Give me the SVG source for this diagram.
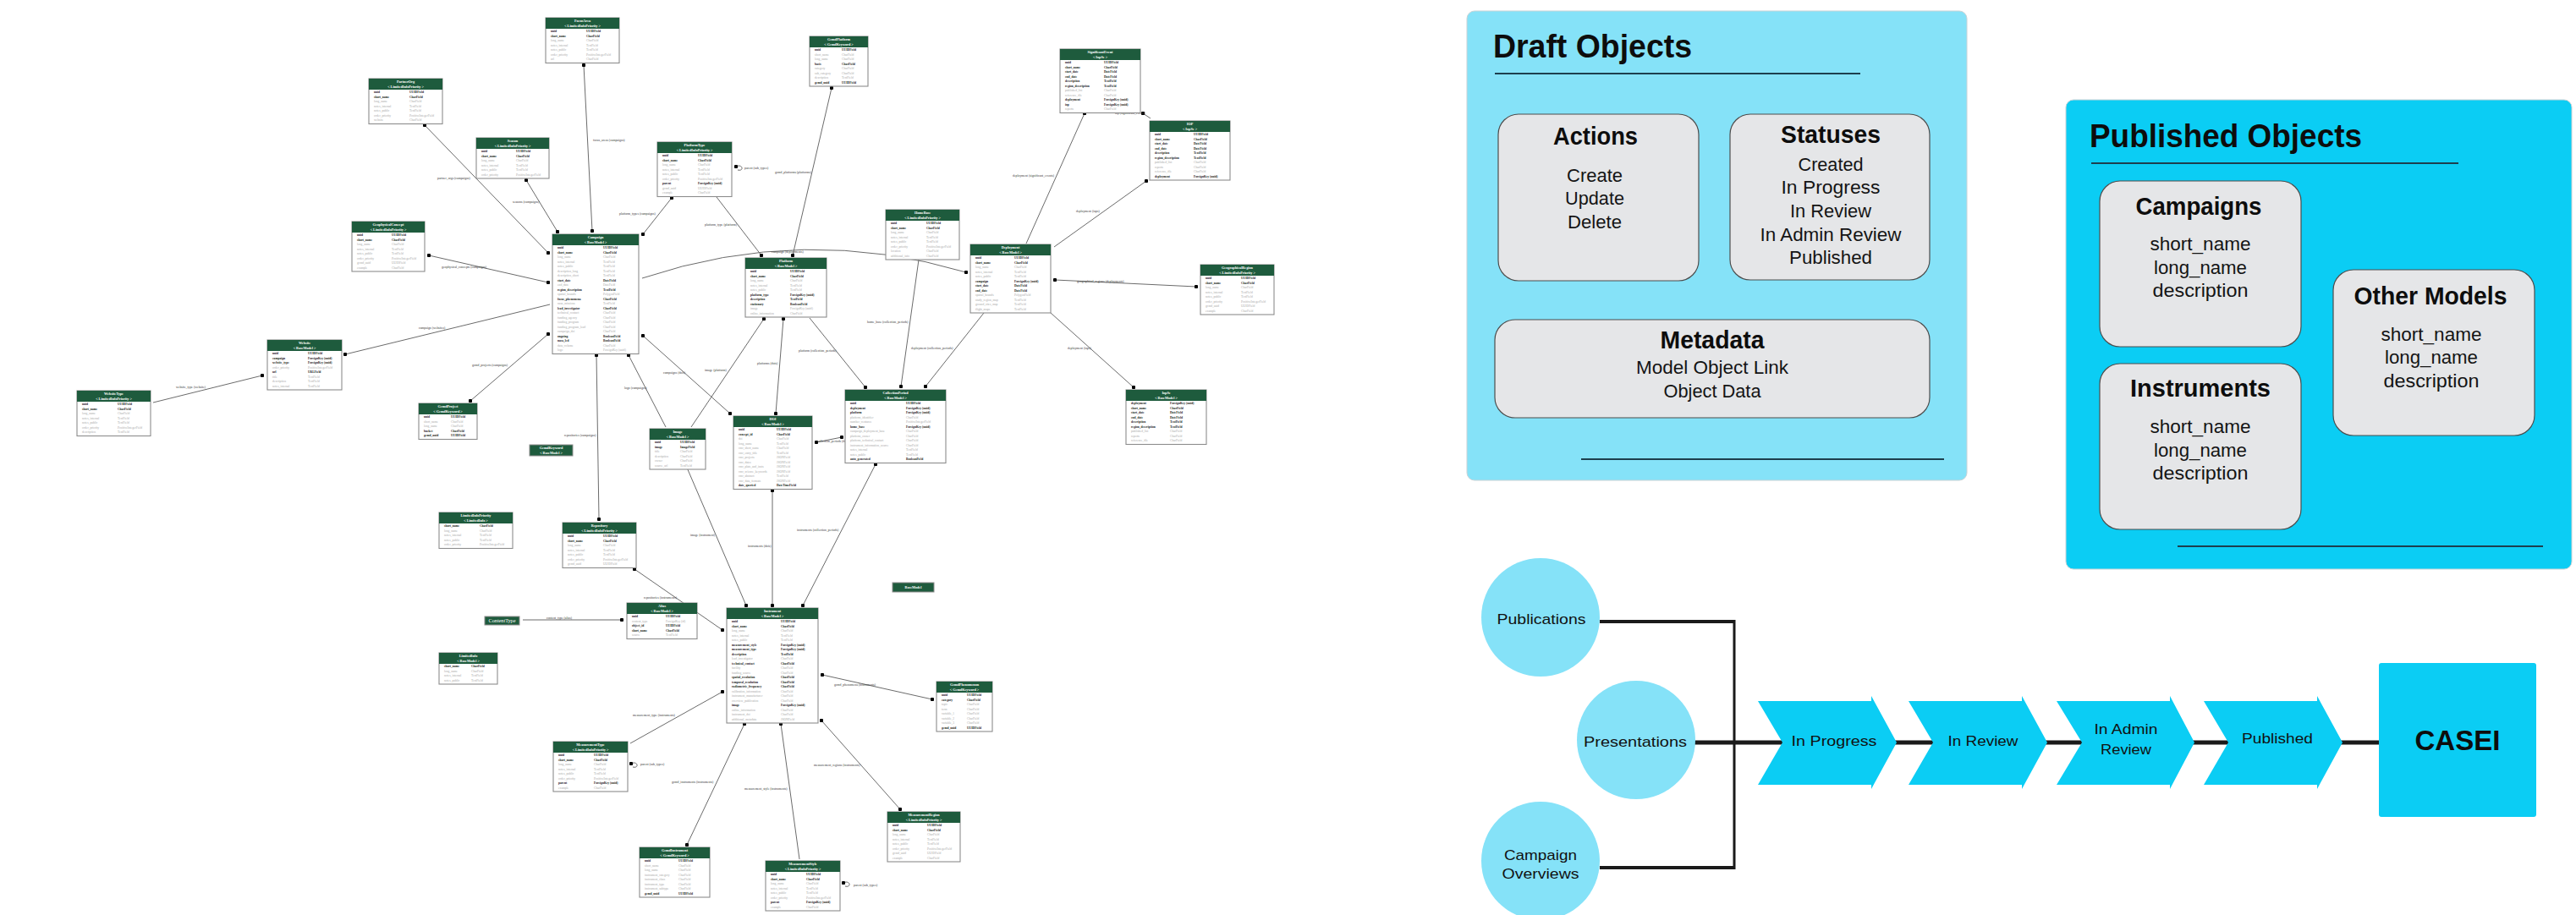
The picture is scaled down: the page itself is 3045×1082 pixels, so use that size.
<svg xmlns="http://www.w3.org/2000/svg" width="3045" height="1082" viewBox="0 0 3045 1082">
<style>
.tb{fill:#fff;stroke:#8c8c8c;stroke-width:1.1}
.th{fill:#1e5b3d}
.tt{font-family:"Liberation Serif",serif;font-weight:bold;font-size:4.2px;fill:#fff;text-anchor:middle}
.tf{font-family:"Liberation Serif",serif;font-size:3.6px}
.b{fill:#1a1a1a;font-weight:bold}
.g{fill:#a8a8a8}
.lk{fill:none;stroke:#6b6b6b;stroke-width:1}
.d2{marker-start:url(#dot);marker-end:url(#dot)}
.de{marker-end:url(#dot)}
.ds{marker-start:url(#dot)}
.el{font-family:"Liberation Serif",serif;font-size:3.8px;fill:#3a3a3a}
.pd{fill:#85e2f8;stroke:#c9d3d6;stroke-width:1}
.pp{fill:#0bcdf4;stroke:#c9d3d6;stroke-width:1}
.bx{fill:#e5e6e8;stroke:#4d4d4d;stroke-width:1.2}
.rl{stroke:#1d3f4e;stroke-width:2}
.h1{font-family:"Liberation Sans",Arial,sans-serif;font-weight:bold;font-size:39px;fill:#0d0d0d}
.h2{font-family:"Liberation Sans",Arial,sans-serif;font-weight:bold;font-size:29px;fill:#0d0d0d;text-anchor:middle}
.tx{font-family:"Liberation Sans",Arial,sans-serif;font-size:22px;fill:#141414;text-anchor:middle}
.fl{font-family:"Liberation Sans",Arial,sans-serif;font-size:17px;fill:#111;text-anchor:middle}
.cv{fill:#0bcdf4}
.cc{fill:#85e2f8}
.wl{stroke:#1a1a1a;fill:none}
</style>
<defs>
<marker id="dot" viewBox="0 0 6 6" refX="3" refY="3" markerWidth="4.5" markerHeight="4.5" markerUnits="userSpaceOnUse"><circle cx="3" cy="3" r="3" fill="#000"/></marker>
</defs>
<rect width="3045" height="1082" fill="#fff"/>

<!-- ER model: relations -->
<g id="connectors">
<line class="lk d2" x1="690" y1="77" x2="700" y2="273"/>
<line class="lk d2" x1="622" y1="213" x2="659" y2="274"/>
<line class="lk d2" x1="794" y1="234" x2="760" y2="277"/>
<line class="lk d2" x1="502" y1="148" x2="648" y2="299"/>
<line class="lk d2" x1="507" y1="302" x2="648" y2="334"/>
<line class="lk de" x1="650" y1="360" x2="408" y2="419"/>
<line class="lk d2" x1="556" y1="474" x2="648" y2="395"/>
<line class="lk de" x1="181" y1="476" x2="310" y2="444"/>
<line class="lk d2" x1="760" y1="397" x2="863" y2="489"/>
<line class="lk de" x1="787" y1="505" x2="743" y2="420"/>
<line class="lk de" x1="817" y1="505" x2="903" y2="377"/>
<line class="lk d2" x1="926" y1="377" x2="917" y2="489"/>
<line class="lk de" x1="957" y1="376" x2="1023" y2="458"/>
<line class="lk de" x1="1086" y1="307" x2="1065" y2="457"/>
<line class="lk de" x1="1163" y1="370" x2="1094" y2="457"/>
<line class="lk de" x1="1242" y1="370" x2="1340" y2="458"/>
<line class="lk de" x1="1213" y1="288" x2="1282" y2="134"/>
<line class="lk de" x1="1246" y1="292" x2="1355" y2="214"/>
<line class="lk de" x1="1360" y1="140" x2="1351" y2="134"/>
<line class="lk d2" x1="1247" y1="331" x2="1414" y2="339"/>
<path class="lk de" d="M759,329 Q950,265 1142,322"/>
<line class="lk d2" x1="983" y1="104" x2="937" y2="302"/>
<line class="lk de" x1="847" y1="233" x2="900" y2="302"/>
<path class="lk ds" d="M870,197 C878,193 880,203 872,201"/>
<line class="lk d2" x1="705" y1="420" x2="708" y2="614"/>
<line class="lk d2" x1="750" y1="673" x2="854" y2="745"/>
<line class="lk de" x1="618" y1="733" x2="735" y2="733"/>
<line class="lk de" x1="812" y1="553" x2="882" y2="716"/>
<line class="lk d2" x1="913" y1="580" x2="913" y2="716"/>
<line class="lk d2" x1="1035" y1="549" x2="949" y2="716"/>
<line class="lk d2" x1="972" y1="798" x2="1102" y2="827"/>
<line class="lk de" x1="745" y1="879" x2="854" y2="818"/>
<line class="lk d2" x1="880" y1="856" x2="812" y2="999"/>
<line class="lk de" x1="945" y1="1016" x2="923" y2="856"/>
<line class="lk d2" x1="971" y1="852" x2="1064" y2="957"/>
<path class="lk ds" d="M746,903 C754,899 756,909 748,907"/>
<path class="lk ds" d="M997,1044 C1005,1040 1007,1050 999,1048"/>
<line class="lk d2" x1="965" y1="523" x2="995" y2="517"/>
<text class="el" x="701" y="167">focus_areas (campaigns)</text>
<text class="el" x="606" y="240">seasons (campaigns)</text>
<text class="el" x="732" y="254">platform_types (campaigns)</text>
<text class="el" x="517" y="212">partner_orgs (campaigns)</text>
<text class="el" x="522" y="317">geophysical_concepts (campaigns)</text>
<text class="el" x="495" y="389">campaign (websites)</text>
<text class="el" x="558" y="433">gcmd_projects (campaigns)</text>
<text class="el" x="208" y="459">website_type (website)</text>
<text class="el" x="784" y="442">campaigns (dois)</text>
<text class="el" x="738" y="460">logo (campaigns)</text>
<text class="el" x="833" y="439">image (platform)</text>
<text class="el" x="895" y="431">platforms (dois)</text>
<text class="el" x="944" y="416">platform (collection_periods)</text>
<text class="el" x="1025" y="382">home_base (collection_periods)</text>
<text class="el" x="1077" y="413">deployment (collection_periods)</text>
<text class="el" x="1262" y="413">deployment (iops)</text>
<text class="el" x="1197" y="209">deployment (significant_events)</text>
<text class="el" x="1272" y="251">deployment (iops)</text>
<text class="el" x="1318" y="135">iop (significant_events)</text>
<text class="el" x="1273" y="334">geographical_regions (deployments)</text>
<text class="el" x="912" y="299">campaign (deployments)</text>
<text class="el" x="916" y="205">gcmd_platforms (platforms)</text>
<text class="el" x="833" y="267">platform_type (platform)</text>
<text class="el" x="880" y="200">parent (sub_types)</text>
<text class="el" x="667" y="516">repositories (campaigns)</text>
<text class="el" x="761" y="708">repositories (instruments)</text>
<text class="el" x="646" y="732">content_type (alias)</text>
<text class="el" x="816" y="634">image (instrument)</text>
<text class="el" x="884" y="647">instruments (dois)</text>
<text class="el" x="942" y="628">instruments (collection_periods)</text>
<text class="el" x="986" y="811">gcmd_phenomena (instruments)</text>
<text class="el" x="748" y="847">measurement_type (instruments)</text>
<text class="el" x="794" y="926">gcmd_instruments (instruments)</text>
<text class="el" x="880" y="934">measurement_style (instruments)</text>
<text class="el" x="962" y="906">measurement_regions (instruments)</text>
<text class="el" x="757" y="905">parent (sub_types)</text>
<text class="el" x="1009" y="1048">parent (sub_types)</text>
<text class="el" x="966" y="523">collection_periods (dois)</text>
</g>

<!-- ER model: tables -->
<g id="focus-area" transform="translate(645,21)">
<rect class="tb" width="87" height="53.5"/><rect class="th" width="87" height="13"/>
<text class="tt" x="43.5" y="5.4">FocusArea</text><text class="tt" x="43.5" y="10.6">&lt; LimitedInfoPriority &gt;</text>
<text class="tf"><tspan x="6" y="17.3" class="b">uuid</tspan><tspan x="6" dy="5.5" class="b">short_name</tspan><tspan x="6" dy="5.5" class="g">long_name</tspan><tspan x="6" dy="5.5" class="g">notes_internal</tspan><tspan x="6" dy="5.5" class="g">notes_public</tspan><tspan x="6" dy="5.5" class="g">order_priority</tspan><tspan x="6" dy="5.5" class="g">url</tspan></text>
<text class="tf"><tspan x="48" y="17.3" class="b">UUIDField</tspan><tspan x="48" dy="5.5" class="b">CharField</tspan><tspan x="48" dy="5.5" class="g">CharField</tspan><tspan x="48" dy="5.5" class="g">TextField</tspan><tspan x="48" dy="5.5" class="g">TextField</tspan><tspan x="48" dy="5.5" class="g">PositiveIntegerField</tspan><tspan x="48" dy="5.5" class="g">CharField</tspan></text>
</g>

<g id="gcmd-platform" transform="translate(957,43)">
<rect class="tb" width="69" height="59"/><rect class="th" width="69" height="13"/>
<text class="tt" x="34.5" y="5.4">GcmdPlatform</text><text class="tt" x="34.5" y="10.6">&lt; GcmdKeyword &gt;</text>
<text class="tf"><tspan x="6" y="17.3" class="b">uuid</tspan><tspan x="6" dy="5.5" class="g">short_name</tspan><tspan x="6" dy="5.5" class="g">long_name</tspan><tspan x="6" dy="5.5" class="b">basis</tspan><tspan x="6" dy="5.5" class="g">category</tspan><tspan x="6" dy="5.5" class="g">sub_category</tspan><tspan x="6" dy="5.5" class="g">description</tspan><tspan x="6" dy="5.5" class="b">gcmd_uuid</tspan></text>
<text class="tf"><tspan x="38" y="17.3" class="b">UUIDField</tspan><tspan x="38" dy="5.5" class="g">CharField</tspan><tspan x="38" dy="5.5" class="g">CharField</tspan><tspan x="38" dy="5.5" class="b">CharField</tspan><tspan x="38" dy="5.5" class="g">CharField</tspan><tspan x="38" dy="5.5" class="g">CharField</tspan><tspan x="38" dy="5.5" class="g">TextField</tspan><tspan x="38" dy="5.5" class="b">UUIDField</tspan></text>
</g>

<g id="significant-event" transform="translate(1253,58)">
<rect class="tb" width="95" height="75.5"/><rect class="th" width="95" height="13"/>
<text class="tt" x="47.5" y="5.4">SignificantEvent</text><text class="tt" x="47.5" y="10.6">&lt; IopSe &gt;</text>
<text class="tf"><tspan x="6" y="17.3" class="b">uuid</tspan><tspan x="6" dy="5.5" class="b">short_name</tspan><tspan x="6" dy="5.5" class="b">start_date</tspan><tspan x="6" dy="5.5" class="b">end_date</tspan><tspan x="6" dy="5.5" class="b">description</tspan><tspan x="6" dy="5.5" class="b">region_description</tspan><tspan x="6" dy="5.5" class="g">published_list</tspan><tspan x="6" dy="5.5" class="g">reference_file</tspan><tspan x="6" dy="5.5" class="b">deployment</tspan><tspan x="6" dy="5.5" class="b">iop</tspan><tspan x="6" dy="5.5" class="g">reports</tspan></text>
<text class="tf"><tspan x="52" y="17.3" class="b">UUIDField</tspan><tspan x="52" dy="5.5" class="b">CharField</tspan><tspan x="52" dy="5.5" class="b">DateField</tspan><tspan x="52" dy="5.5" class="b">DateField</tspan><tspan x="52" dy="5.5" class="b">TextField</tspan><tspan x="52" dy="5.5" class="b">TextField</tspan><tspan x="52" dy="5.5" class="g">CharField</tspan><tspan x="52" dy="5.5" class="g">CharField</tspan><tspan x="52" dy="5.5" class="b">ForeignKey (uuid)</tspan><tspan x="52" dy="5.5" class="b">ForeignKey (uuid)</tspan><tspan x="52" dy="5.5" class="g">CharField</tspan></text>
</g>

<g id="iop" transform="translate(1359,143)">
<rect class="tb" width="95" height="70"/><rect class="th" width="95" height="13"/>
<text class="tt" x="47.5" y="5.4">IOP</text><text class="tt" x="47.5" y="10.6">&lt; IopSe &gt;</text>
<text class="tf"><tspan x="6" y="17.3" class="b">uuid</tspan><tspan x="6" dy="5.5" class="b">short_name</tspan><tspan x="6" dy="5.5" class="b">start_date</tspan><tspan x="6" dy="5.5" class="b">end_date</tspan><tspan x="6" dy="5.5" class="b">description</tspan><tspan x="6" dy="5.5" class="b">region_description</tspan><tspan x="6" dy="5.5" class="g">published_list</tspan><tspan x="6" dy="5.5" class="g">reports</tspan><tspan x="6" dy="5.5" class="g">reference_file</tspan><tspan x="6" dy="5.5" class="b">deployment</tspan></text>
<text class="tf"><tspan x="52" y="17.3" class="b">UUIDField</tspan><tspan x="52" dy="5.5" class="b">CharField</tspan><tspan x="52" dy="5.5" class="b">DateField</tspan><tspan x="52" dy="5.5" class="b">DateField</tspan><tspan x="52" dy="5.5" class="b">TextField</tspan><tspan x="52" dy="5.5" class="b">TextField</tspan><tspan x="52" dy="5.5" class="g">CharField</tspan><tspan x="52" dy="5.5" class="g">CharField</tspan><tspan x="52" dy="5.5" class="g">CharField</tspan><tspan x="52" dy="5.5" class="b">ForeignKey (uuid)</tspan></text>
</g>

<g id="partner-org" transform="translate(436,93)">
<rect class="tb" width="87" height="53.5"/><rect class="th" width="87" height="13"/>
<text class="tt" x="43.5" y="5.4">PartnerOrg</text><text class="tt" x="43.5" y="10.6">&lt; LimitedInfoPriority &gt;</text>
<text class="tf"><tspan x="6" y="17.3" class="b">uuid</tspan><tspan x="6" dy="5.5" class="b">short_name</tspan><tspan x="6" dy="5.5" class="g">long_name</tspan><tspan x="6" dy="5.5" class="g">notes_internal</tspan><tspan x="6" dy="5.5" class="g">notes_public</tspan><tspan x="6" dy="5.5" class="g">order_priority</tspan><tspan x="6" dy="5.5" class="g">website</tspan></text>
<text class="tf"><tspan x="48" y="17.3" class="b">UUIDField</tspan><tspan x="48" dy="5.5" class="b">CharField</tspan><tspan x="48" dy="5.5" class="g">CharField</tspan><tspan x="48" dy="5.5" class="g">TextField</tspan><tspan x="48" dy="5.5" class="g">TextField</tspan><tspan x="48" dy="5.5" class="g">PositiveIntegerField</tspan><tspan x="48" dy="5.5" class="g">CharField</tspan></text>
</g>

<g id="season" transform="translate(563,163)">
<rect class="tb" width="86" height="48"/><rect class="th" width="86" height="13"/>
<text class="tt" x="43" y="5.4">Season</text><text class="tt" x="43" y="10.6">&lt; LimitedInfoPriority &gt;</text>
<text class="tf"><tspan x="6" y="17.3" class="b">uuid</tspan><tspan x="6" dy="5.5" class="b">short_name</tspan><tspan x="6" dy="5.5" class="g">long_name</tspan><tspan x="6" dy="5.5" class="g">notes_internal</tspan><tspan x="6" dy="5.5" class="g">notes_public</tspan><tspan x="6" dy="5.5" class="g">order_priority</tspan></text>
<text class="tf"><tspan x="47" y="17.3" class="b">UUIDField</tspan><tspan x="47" dy="5.5" class="b">CharField</tspan><tspan x="47" dy="5.5" class="g">CharField</tspan><tspan x="47" dy="5.5" class="g">TextField</tspan><tspan x="47" dy="5.5" class="g">TextField</tspan><tspan x="47" dy="5.5" class="g">PositiveIntegerField</tspan></text>
</g>

<g id="platform-type" transform="translate(777,168)">
<rect class="tb" width="88" height="64.5"/><rect class="th" width="88" height="13"/>
<text class="tt" x="44" y="5.4">PlatformType</text><text class="tt" x="44" y="10.6">&lt; LimitedInfoPriority &gt;</text>
<text class="tf"><tspan x="6" y="17.3" class="b">uuid</tspan><tspan x="6" dy="5.5" class="b">short_name</tspan><tspan x="6" dy="5.5" class="g">long_name</tspan><tspan x="6" dy="5.5" class="g">notes_internal</tspan><tspan x="6" dy="5.5" class="g">notes_public</tspan><tspan x="6" dy="5.5" class="g">order_priority</tspan><tspan x="6" dy="5.5" class="b">parent</tspan><tspan x="6" dy="5.5" class="g">gcmd_uuid</tspan><tspan x="6" dy="5.5" class="g">example</tspan></text>
<text class="tf"><tspan x="48" y="17.3" class="b">UUIDField</tspan><tspan x="48" dy="5.5" class="b">CharField</tspan><tspan x="48" dy="5.5" class="g">CharField</tspan><tspan x="48" dy="5.5" class="g">TextField</tspan><tspan x="48" dy="5.5" class="g">TextField</tspan><tspan x="48" dy="5.5" class="g">PositiveIntegerField</tspan><tspan x="48" dy="5.5" class="b">ForeignKey (uuid)</tspan><tspan x="48" dy="5.5" class="g">UUIDField</tspan><tspan x="48" dy="5.5" class="g">CharField</tspan></text>
</g>

<g id="home-base" transform="translate(1047,248)">
<rect class="tb" width="87" height="59"/><rect class="th" width="87" height="13"/>
<text class="tt" x="43.5" y="5.4">HomeBase</text><text class="tt" x="43.5" y="10.6">&lt; LimitedInfoPriority &gt;</text>
<text class="tf"><tspan x="6" y="17.3" class="b">uuid</tspan><tspan x="6" dy="5.5" class="b">short_name</tspan><tspan x="6" dy="5.5" class="g">long_name</tspan><tspan x="6" dy="5.5" class="g">notes_internal</tspan><tspan x="6" dy="5.5" class="g">notes_public</tspan><tspan x="6" dy="5.5" class="g">order_priority</tspan><tspan x="6" dy="5.5" class="g">location</tspan><tspan x="6" dy="5.5" class="g">additional_info</tspan></text>
<text class="tf"><tspan x="48" y="17.3" class="b">UUIDField</tspan><tspan x="48" dy="5.5" class="b">CharField</tspan><tspan x="48" dy="5.5" class="g">CharField</tspan><tspan x="48" dy="5.5" class="g">TextField</tspan><tspan x="48" dy="5.5" class="g">TextField</tspan><tspan x="48" dy="5.5" class="g">PositiveIntegerField</tspan><tspan x="48" dy="5.5" class="g">CharField</tspan><tspan x="48" dy="5.5" class="g">CharField</tspan></text>
</g>

<g id="geophysical-concept" transform="translate(416,262)">
<rect class="tb" width="86" height="59"/><rect class="th" width="86" height="13"/>
<text class="tt" x="43" y="5.4">GeophysicalConcept</text><text class="tt" x="43" y="10.6">&lt; LimitedInfoPriority &gt;</text>
<text class="tf"><tspan x="6" y="17.3" class="b">uuid</tspan><tspan x="6" dy="5.5" class="b">short_name</tspan><tspan x="6" dy="5.5" class="g">long_name</tspan><tspan x="6" dy="5.5" class="g">notes_internal</tspan><tspan x="6" dy="5.5" class="g">notes_public</tspan><tspan x="6" dy="5.5" class="g">order_priority</tspan><tspan x="6" dy="5.5" class="g">gcmd_uuid</tspan><tspan x="6" dy="5.5" class="g">example</tspan></text>
<text class="tf"><tspan x="47" y="17.3" class="b">UUIDField</tspan><tspan x="47" dy="5.5" class="b">CharField</tspan><tspan x="47" dy="5.5" class="g">CharField</tspan><tspan x="47" dy="5.5" class="g">TextField</tspan><tspan x="47" dy="5.5" class="g">TextField</tspan><tspan x="47" dy="5.5" class="g">PositiveIntegerField</tspan><tspan x="47" dy="5.5" class="g">UUIDField</tspan><tspan x="47" dy="5.5" class="g">CharField</tspan></text>
</g>

<g id="campaign" transform="translate(653,277)">
<rect class="tb" width="102" height="141.5"/><rect class="th" width="102" height="13"/>
<text class="tt" x="51" y="5.4">Campaign</text><text class="tt" x="51" y="10.6">&lt; BaseModel &gt;</text>
<text class="tf"><tspan x="6" y="17.3" class="b">uuid</tspan><tspan x="6" dy="5.5" class="b">short_name</tspan><tspan x="6" dy="5.5" class="g">long_name</tspan><tspan x="6" dy="5.5" class="g">notes_internal</tspan><tspan x="6" dy="5.5" class="g">notes_public</tspan><tspan x="6" dy="5.5" class="g">description_long</tspan><tspan x="6" dy="5.5" class="g">description_short</tspan><tspan x="6" dy="5.5" class="b">start_date</tspan><tspan x="6" dy="5.5" class="g">end_date</tspan><tspan x="6" dy="5.5" class="b">region_description</tspan><tspan x="6" dy="5.5" class="g">spatial_bounds</tspan><tspan x="6" dy="5.5" class="b">focus_phenomena</tspan><tspan x="6" dy="5.5" class="g">nasa_missions</tspan><tspan x="6" dy="5.5" class="b">lead_investigator</tspan><tspan x="6" dy="5.5" class="g">technical_contact</tspan><tspan x="6" dy="5.5" class="g">funding_agency</tspan><tspan x="6" dy="5.5" class="g">funding_program</tspan><tspan x="6" dy="5.5" class="g">funding_program_lead</tspan><tspan x="6" dy="5.5" class="g">campaign_doi</tspan><tspan x="6" dy="5.5" class="b">ongoing</tspan><tspan x="6" dy="5.5" class="b">nasa_led</tspan><tspan x="6" dy="5.5" class="g">data_volume</tspan><tspan x="6" dy="5.5" class="g">logo</tspan></text>
<text class="tf"><tspan x="60" y="17.3" class="b">UUIDField</tspan><tspan x="60" dy="5.5" class="b">CharField</tspan><tspan x="60" dy="5.5" class="g">CharField</tspan><tspan x="60" dy="5.5" class="g">TextField</tspan><tspan x="60" dy="5.5" class="g">TextField</tspan><tspan x="60" dy="5.5" class="g">TextField</tspan><tspan x="60" dy="5.5" class="g">TextField</tspan><tspan x="60" dy="5.5" class="b">DateField</tspan><tspan x="60" dy="5.5" class="g">DateField</tspan><tspan x="60" dy="5.5" class="b">TextField</tspan><tspan x="60" dy="5.5" class="g">PolygonField</tspan><tspan x="60" dy="5.5" class="b">CharField</tspan><tspan x="60" dy="5.5" class="g">TextField</tspan><tspan x="60" dy="5.5" class="b">CharField</tspan><tspan x="60" dy="5.5" class="g">CharField</tspan><tspan x="60" dy="5.5" class="g">CharField</tspan><tspan x="60" dy="5.5" class="g">CharField</tspan><tspan x="60" dy="5.5" class="g">CharField</tspan><tspan x="60" dy="5.5" class="g">CharField</tspan><tspan x="60" dy="5.5" class="b">BooleanField</tspan><tspan x="60" dy="5.5" class="b">BooleanField</tspan><tspan x="60" dy="5.5" class="g">CharField</tspan><tspan x="60" dy="5.5" class="g">ForeignKey (uuid)</tspan></text>
</g>

<g id="platform" transform="translate(881,305)">
<rect class="tb" width="96" height="70"/><rect class="th" width="96" height="13"/>
<text class="tt" x="48" y="5.4">Platform</text><text class="tt" x="48" y="10.6">&lt; BaseModel &gt;</text>
<text class="tf"><tspan x="6" y="17.3" class="b">uuid</tspan><tspan x="6" dy="5.5" class="b">short_name</tspan><tspan x="6" dy="5.5" class="g">long_name</tspan><tspan x="6" dy="5.5" class="g">notes_internal</tspan><tspan x="6" dy="5.5" class="g">notes_public</tspan><tspan x="6" dy="5.5" class="b">platform_type</tspan><tspan x="6" dy="5.5" class="b">description</tspan><tspan x="6" dy="5.5" class="b">stationary</tspan><tspan x="6" dy="5.5" class="g">image</tspan><tspan x="6" dy="5.5" class="g">online_information</tspan></text>
<text class="tf"><tspan x="53" y="17.3" class="b">UUIDField</tspan><tspan x="53" dy="5.5" class="b">CharField</tspan><tspan x="53" dy="5.5" class="g">CharField</tspan><tspan x="53" dy="5.5" class="g">TextField</tspan><tspan x="53" dy="5.5" class="g">TextField</tspan><tspan x="53" dy="5.5" class="b">ForeignKey (uuid)</tspan><tspan x="53" dy="5.5" class="b">TextField</tspan><tspan x="53" dy="5.5" class="b">BooleanField</tspan><tspan x="53" dy="5.5" class="g">ForeignKey (uuid)</tspan><tspan x="53" dy="5.5" class="g">CharField</tspan></text>
</g>

<g id="deployment" transform="translate(1147,289)">
<rect class="tb" width="95" height="81"/><rect class="th" width="95" height="13"/>
<text class="tt" x="47.5" y="5.4">Deployment</text><text class="tt" x="47.5" y="10.6">&lt; BaseModel &gt;</text>
<text class="tf"><tspan x="6" y="17.3" class="b">uuid</tspan><tspan x="6" dy="5.5" class="b">short_name</tspan><tspan x="6" dy="5.5" class="g">long_name</tspan><tspan x="6" dy="5.5" class="g">notes_internal</tspan><tspan x="6" dy="5.5" class="g">notes_public</tspan><tspan x="6" dy="5.5" class="b">campaign</tspan><tspan x="6" dy="5.5" class="b">start_date</tspan><tspan x="6" dy="5.5" class="b">end_date</tspan><tspan x="6" dy="5.5" class="g">spatial_bounds</tspan><tspan x="6" dy="5.5" class="g">study_region_map</tspan><tspan x="6" dy="5.5" class="g">ground_sites_map</tspan><tspan x="6" dy="5.5" class="g">flight_maps</tspan></text>
<text class="tf"><tspan x="52" y="17.3" class="b">UUIDField</tspan><tspan x="52" dy="5.5" class="b">CharField</tspan><tspan x="52" dy="5.5" class="g">CharField</tspan><tspan x="52" dy="5.5" class="g">TextField</tspan><tspan x="52" dy="5.5" class="g">TextField</tspan><tspan x="52" dy="5.5" class="b">ForeignKey (uuid)</tspan><tspan x="52" dy="5.5" class="b">DateField</tspan><tspan x="52" dy="5.5" class="b">DateField</tspan><tspan x="52" dy="5.5" class="g">PolygonField</tspan><tspan x="52" dy="5.5" class="g">TextField</tspan><tspan x="52" dy="5.5" class="g">TextField</tspan><tspan x="52" dy="5.5" class="g">TextField</tspan></text>
</g>

<g id="geographical-region" transform="translate(1419,313)">
<rect class="tb" width="87" height="59"/><rect class="th" width="87" height="13"/>
<text class="tt" x="43.5" y="5.4">GeographicalRegion</text><text class="tt" x="43.5" y="10.6">&lt; LimitedInfoPriority &gt;</text>
<text class="tf"><tspan x="6" y="17.3" class="b">uuid</tspan><tspan x="6" dy="5.5" class="b">short_name</tspan><tspan x="6" dy="5.5" class="g">long_name</tspan><tspan x="6" dy="5.5" class="g">notes_internal</tspan><tspan x="6" dy="5.5" class="g">notes_public</tspan><tspan x="6" dy="5.5" class="g">order_priority</tspan><tspan x="6" dy="5.5" class="g">gcmd_uuid</tspan><tspan x="6" dy="5.5" class="g">example</tspan></text>
<text class="tf"><tspan x="48" y="17.3" class="b">UUIDField</tspan><tspan x="48" dy="5.5" class="b">CharField</tspan><tspan x="48" dy="5.5" class="g">CharField</tspan><tspan x="48" dy="5.5" class="g">TextField</tspan><tspan x="48" dy="5.5" class="g">TextField</tspan><tspan x="48" dy="5.5" class="g">PositiveIntegerField</tspan><tspan x="48" dy="5.5" class="g">UUIDField</tspan><tspan x="48" dy="5.5" class="g">CharField</tspan></text>
</g>

<g id="website" transform="translate(316,402)">
<rect class="tb" width="88" height="59"/><rect class="th" width="88" height="13"/>
<text class="tt" x="44" y="5.4">Website</text><text class="tt" x="44" y="10.6">&lt; BaseModel &gt;</text>
<text class="tf"><tspan x="6" y="17.3" class="b">uuid</tspan><tspan x="6" dy="5.5" class="b">campaign</tspan><tspan x="6" dy="5.5" class="b">website_type</tspan><tspan x="6" dy="5.5" class="g">order_priority</tspan><tspan x="6" dy="5.5" class="b">url</tspan><tspan x="6" dy="5.5" class="g">title</tspan><tspan x="6" dy="5.5" class="g">description</tspan><tspan x="6" dy="5.5" class="g">notes_internal</tspan></text>
<text class="tf"><tspan x="48" y="17.3" class="b">UUIDField</tspan><tspan x="48" dy="5.5" class="b">ForeignKey (uuid)</tspan><tspan x="48" dy="5.5" class="b">ForeignKey (uuid)</tspan><tspan x="48" dy="5.5" class="g">PositiveIntegerField</tspan><tspan x="48" dy="5.5" class="b">URLField</tspan><tspan x="48" dy="5.5" class="g">TextField</tspan><tspan x="48" dy="5.5" class="g">TextField</tspan><tspan x="48" dy="5.5" class="g">TextField</tspan></text>
</g>

<g id="website-type" transform="translate(91,462)">
<rect class="tb" width="87" height="53.5"/><rect class="th" width="87" height="13"/>
<text class="tt" x="43.5" y="5.4">WebsiteType</text><text class="tt" x="43.5" y="10.6">&lt; LimitedInfoPriority &gt;</text>
<text class="tf"><tspan x="6" y="17.3" class="b">uuid</tspan><tspan x="6" dy="5.5" class="b">short_name</tspan><tspan x="6" dy="5.5" class="g">long_name</tspan><tspan x="6" dy="5.5" class="g">notes_internal</tspan><tspan x="6" dy="5.5" class="g">notes_public</tspan><tspan x="6" dy="5.5" class="g">order_priority</tspan><tspan x="6" dy="5.5" class="g">description</tspan></text>
<text class="tf"><tspan x="48" y="17.3" class="b">UUIDField</tspan><tspan x="48" dy="5.5" class="b">CharField</tspan><tspan x="48" dy="5.5" class="g">CharField</tspan><tspan x="48" dy="5.5" class="g">TextField</tspan><tspan x="48" dy="5.5" class="g">TextField</tspan><tspan x="48" dy="5.5" class="g">PositiveIntegerField</tspan><tspan x="48" dy="5.5" class="g">TextField</tspan></text>
</g>

<g id="gcmd-project" transform="translate(495,477)">
<rect class="tb" width="69" height="42.5"/><rect class="th" width="69" height="13"/>
<text class="tt" x="34.5" y="5.4">GcmdProject</text><text class="tt" x="34.5" y="10.6">&lt; GcmdKeyword &gt;</text>
<text class="tf"><tspan x="6" y="17.3" class="b">uuid</tspan><tspan x="6" dy="5.5" class="g">short_name</tspan><tspan x="6" dy="5.5" class="g">long_name</tspan><tspan x="6" dy="5.5" class="b">bucket</tspan><tspan x="6" dy="5.5" class="b">gcmd_uuid</tspan></text>
<text class="tf"><tspan x="38" y="17.3" class="b">UUIDField</tspan><tspan x="38" dy="5.5" class="g">CharField</tspan><tspan x="38" dy="5.5" class="g">CharField</tspan><tspan x="38" dy="5.5" class="b">CharField</tspan><tspan x="38" dy="5.5" class="b">UUIDField</tspan></text>
</g>

<g id="gcmd-keyword" transform="translate(626,526)">
<rect class="th" width="51" height="13" stroke="#8c8c8c" stroke-width="1"/>
<text class="tt" x="25.5" y="5.4">GcmdKeyword</text><text class="tt" x="25.5" y="10.6">&lt; BaseModel &gt;</text>
</g>

<g id="limited-info-priority" transform="translate(519,606)">
<rect class="tb" width="87" height="42.5"/><rect class="th" width="87" height="13"/>
<text class="tt" x="43.5" y="5.4">LimitedInfoPriority</text><text class="tt" x="43.5" y="10.6">&lt; LimitedInfo &gt;</text>
<text class="tf"><tspan x="6" y="17.3" class="b">short_name</tspan><tspan x="6" dy="5.5" class="g">long_name</tspan><tspan x="6" dy="5.5" class="g">notes_internal</tspan><tspan x="6" dy="5.5" class="g">notes_public</tspan><tspan x="6" dy="5.5" class="g">order_priority</tspan></text>
<text class="tf"><tspan x="48" y="17.3" class="b">CharField</tspan><tspan x="48" dy="5.5" class="g">CharField</tspan><tspan x="48" dy="5.5" class="g">TextField</tspan><tspan x="48" dy="5.5" class="g">TextField</tspan><tspan x="48" dy="5.5" class="g">PositiveIntegerField</tspan></text>
</g>

<g id="repository" transform="translate(665,618)">
<rect class="tb" width="87" height="53.5"/><rect class="th" width="87" height="13"/>
<text class="tt" x="43.5" y="5.4">Repository</text><text class="tt" x="43.5" y="10.6">&lt; LimitedInfoPriority &gt;</text>
<text class="tf"><tspan x="6" y="17.3" class="b">uuid</tspan><tspan x="6" dy="5.5" class="b">short_name</tspan><tspan x="6" dy="5.5" class="g">long_name</tspan><tspan x="6" dy="5.5" class="g">notes_internal</tspan><tspan x="6" dy="5.5" class="g">notes_public</tspan><tspan x="6" dy="5.5" class="g">order_priority</tspan><tspan x="6" dy="5.5" class="g">gcmd_uuid</tspan></text>
<text class="tf"><tspan x="48" y="17.3" class="b">UUIDField</tspan><tspan x="48" dy="5.5" class="b">CharField</tspan><tspan x="48" dy="5.5" class="g">CharField</tspan><tspan x="48" dy="5.5" class="g">TextField</tspan><tspan x="48" dy="5.5" class="g">TextField</tspan><tspan x="48" dy="5.5" class="g">PositiveIntegerField</tspan><tspan x="48" dy="5.5" class="g">UUIDField</tspan></text>
</g>

<g id="content-type" transform="translate(573,729)">
<rect class="th" width="41" height="10" stroke="#8c8c8c" stroke-width="1"/>
<text x="20.5" y="7.3" font-family="Liberation Serif, serif" font-size="6.2" fill="#fff" text-anchor="middle">ContentType</text>
</g>

<g id="alias" transform="translate(741,713)">
<rect class="tb" width="83" height="42.5"/><rect class="th" width="83" height="13"/>
<text class="tt" x="41.5" y="5.4">Alias</text><text class="tt" x="41.5" y="10.6">&lt; BaseModel &gt;</text>
<text class="tf"><tspan x="6" y="17.3" class="b">uuid</tspan><tspan x="6" dy="5.5" class="g">content_type</tspan><tspan x="6" dy="5.5" class="b">object_id</tspan><tspan x="6" dy="5.5" class="b">short_name</tspan><tspan x="6" dy="5.5" class="g">source</tspan></text>
<text class="tf"><tspan x="46" y="17.3" class="b">UUIDField</tspan><tspan x="46" dy="5.5" class="g">ForeignKey (id)</tspan><tspan x="46" dy="5.5" class="b">UUIDField</tspan><tspan x="46" dy="5.5" class="b">CharField</tspan><tspan x="46" dy="5.5" class="g">TextField</tspan></text>
</g>

<g id="limited-info" transform="translate(519,772)">
<rect class="tb" width="69" height="37"/><rect class="th" width="69" height="13"/>
<text class="tt" x="34.5" y="5.4">LimitedInfo</text><text class="tt" x="34.5" y="10.6">&lt; BaseModel &gt;</text>
<text class="tf"><tspan x="6" y="17.3" class="b">short_name</tspan><tspan x="6" dy="5.5" class="g">long_name</tspan><tspan x="6" dy="5.5" class="g">notes_internal</tspan><tspan x="6" dy="5.5" class="g">notes_public</tspan></text>
<text class="tf"><tspan x="38" y="17.3" class="b">CharField</tspan><tspan x="38" dy="5.5" class="g">CharField</tspan><tspan x="38" dy="5.5" class="g">TextField</tspan><tspan x="38" dy="5.5" class="g">TextField</tspan></text>
</g>

<g id="instrument" transform="translate(859,719)">
<rect class="tb" width="108" height="136"/><rect class="th" width="108" height="13"/>
<text class="tt" x="54" y="5.4">Instrument</text><text class="tt" x="54" y="10.6">&lt; BaseModel &gt;</text>
<text class="tf"><tspan x="6" y="17.3" class="b">uuid</tspan><tspan x="6" dy="5.5" class="b">short_name</tspan><tspan x="6" dy="5.5" class="g">long_name</tspan><tspan x="6" dy="5.5" class="g">notes_internal</tspan><tspan x="6" dy="5.5" class="g">notes_public</tspan><tspan x="6" dy="5.5" class="b">measurement_style</tspan><tspan x="6" dy="5.5" class="b">measurement_type</tspan><tspan x="6" dy="5.5" class="b">description</tspan><tspan x="6" dy="5.5" class="g">lead_investigator</tspan><tspan x="6" dy="5.5" class="b">technical_contact</tspan><tspan x="6" dy="5.5" class="g">facility</tspan><tspan x="6" dy="5.5" class="g">funding_source</tspan><tspan x="6" dy="5.5" class="b">spatial_resolution</tspan><tspan x="6" dy="5.5" class="b">temporal_resolution</tspan><tspan x="6" dy="5.5" class="b">radiometric_frequency</tspan><tspan x="6" dy="5.5" class="g">calibration_information</tspan><tspan x="6" dy="5.5" class="g">instrument_manufacturer</tspan><tspan x="6" dy="5.5" class="g">overview_publication</tspan><tspan x="6" dy="5.5" class="b">image</tspan><tspan x="6" dy="5.5" class="g">online_information</tspan><tspan x="6" dy="5.5" class="g">instrument_doi</tspan><tspan x="6" dy="5.5" class="g">additional_metadata</tspan></text>
<text class="tf"><tspan x="64" y="17.3" class="b">UUIDField</tspan><tspan x="64" dy="5.5" class="b">CharField</tspan><tspan x="64" dy="5.5" class="g">CharField</tspan><tspan x="64" dy="5.5" class="g">TextField</tspan><tspan x="64" dy="5.5" class="g">TextField</tspan><tspan x="64" dy="5.5" class="b">ForeignKey (uuid)</tspan><tspan x="64" dy="5.5" class="b">ForeignKey (uuid)</tspan><tspan x="64" dy="5.5" class="b">TextField</tspan><tspan x="64" dy="5.5" class="g">CharField</tspan><tspan x="64" dy="5.5" class="b">CharField</tspan><tspan x="64" dy="5.5" class="g">CharField</tspan><tspan x="64" dy="5.5" class="g">CharField</tspan><tspan x="64" dy="5.5" class="b">CharField</tspan><tspan x="64" dy="5.5" class="b">CharField</tspan><tspan x="64" dy="5.5" class="b">CharField</tspan><tspan x="64" dy="5.5" class="g">CharField</tspan><tspan x="64" dy="5.5" class="g">CharField</tspan><tspan x="64" dy="5.5" class="g">CharField</tspan><tspan x="64" dy="5.5" class="b">ForeignKey (uuid)</tspan><tspan x="64" dy="5.5" class="g">CharField</tspan><tspan x="64" dy="5.5" class="g">CharField</tspan><tspan x="64" dy="5.5" class="g">JSONField</tspan></text>
</g>

<g id="image" transform="translate(768,507)">
<rect class="tb" width="66" height="48"/><rect class="th" width="66" height="13"/>
<text class="tt" x="33" y="5.4">Image</text><text class="tt" x="33" y="10.6">&lt; BaseModel &gt;</text>
<text class="tf"><tspan x="6" y="17.3" class="b">uuid</tspan><tspan x="6" dy="5.5" class="b">image</tspan><tspan x="6" dy="5.5" class="g">title</tspan><tspan x="6" dy="5.5" class="g">description</tspan><tspan x="6" dy="5.5" class="g">owner</tspan><tspan x="6" dy="5.5" class="g">source_url</tspan></text>
<text class="tf"><tspan x="36" y="17.3" class="b">UUIDField</tspan><tspan x="36" dy="5.5" class="b">ImageField</tspan><tspan x="36" dy="5.5" class="g">CharField</tspan><tspan x="36" dy="5.5" class="g">CharField</tspan><tspan x="36" dy="5.5" class="g">CharField</tspan><tspan x="36" dy="5.5" class="g">TextField</tspan></text>
</g>

<g id="doi" transform="translate(867,492)">
<rect class="tb" width="93" height="86.5"/><rect class="th" width="93" height="13"/>
<text class="tt" x="46.5" y="5.4">DOI</text><text class="tt" x="46.5" y="10.6">&lt; BaseModel &gt;</text>
<text class="tf"><tspan x="6" y="17.3" class="b">uuid</tspan><tspan x="6" dy="5.5" class="b">concept_id</tspan><tspan x="6" dy="5.5" class="g">doi</tspan><tspan x="6" dy="5.5" class="g">long_name</tspan><tspan x="6" dy="5.5" class="g">cmr_short_name</tspan><tspan x="6" dy="5.5" class="g">cmr_entry_title</tspan><tspan x="6" dy="5.5" class="g">cmr_projects</tspan><tspan x="6" dy="5.5" class="g">cmr_dates</tspan><tspan x="6" dy="5.5" class="g">cmr_plats_and_insts</tspan><tspan x="6" dy="5.5" class="g">cmr_science_keywords</tspan><tspan x="6" dy="5.5" class="g">cmr_abstract</tspan><tspan x="6" dy="5.5" class="g">cmr_data_formats</tspan><tspan x="6" dy="5.5" class="b">date_queried</tspan></text>
<text class="tf"><tspan x="51" y="17.3" class="b">UUIDField</tspan><tspan x="51" dy="5.5" class="b">CharField</tspan><tspan x="51" dy="5.5" class="g">CharField</tspan><tspan x="51" dy="5.5" class="g">TextField</tspan><tspan x="51" dy="5.5" class="g">CharField</tspan><tspan x="51" dy="5.5" class="g">TextField</tspan><tspan x="51" dy="5.5" class="g">JSONField</tspan><tspan x="51" dy="5.5" class="g">JSONField</tspan><tspan x="51" dy="5.5" class="g">JSONField</tspan><tspan x="51" dy="5.5" class="g">JSONField</tspan><tspan x="51" dy="5.5" class="g">TextField</tspan><tspan x="51" dy="5.5" class="g">JSONField</tspan><tspan x="51" dy="5.5" class="b">DateTimeField</tspan></text>
</g>

<g id="collection-period" transform="translate(999,461)">
<rect class="tb" width="119" height="86.5"/><rect class="th" width="119" height="13"/>
<text class="tt" x="59.5" y="5.4">CollectionPeriod</text><text class="tt" x="59.5" y="10.6">&lt; BaseModel &gt;</text>
<text class="tf"><tspan x="6" y="17.3" class="b">uuid</tspan><tspan x="6" dy="5.5" class="b">deployment</tspan><tspan x="6" dy="5.5" class="b">platform</tspan><tspan x="6" dy="5.5" class="g">platform_identifier</tspan><tspan x="6" dy="5.5" class="g">number_ventures</tspan><tspan x="6" dy="5.5" class="b">home_base</tspan><tspan x="6" dy="5.5" class="g">campaign_deployment_base</tspan><tspan x="6" dy="5.5" class="g">platform_owner</tspan><tspan x="6" dy="5.5" class="g">platform_technical_contact</tspan><tspan x="6" dy="5.5" class="g">instrument_information_source</tspan><tspan x="6" dy="5.5" class="g">notes_internal</tspan><tspan x="6" dy="5.5" class="g">notes_public</tspan><tspan x="6" dy="5.5" class="b">auto_generated</tspan></text>
<text class="tf"><tspan x="72" y="17.3" class="b">UUIDField</tspan><tspan x="72" dy="5.5" class="b">ForeignKey (uuid)</tspan><tspan x="72" dy="5.5" class="b">ForeignKey (uuid)</tspan><tspan x="72" dy="5.5" class="g">CharField</tspan><tspan x="72" dy="5.5" class="g">PositiveIntegerField</tspan><tspan x="72" dy="5.5" class="b">ForeignKey (uuid)</tspan><tspan x="72" dy="5.5" class="g">CharField</tspan><tspan x="72" dy="5.5" class="g">CharField</tspan><tspan x="72" dy="5.5" class="g">CharField</tspan><tspan x="72" dy="5.5" class="g">CharField</tspan><tspan x="72" dy="5.5" class="g">TextField</tspan><tspan x="72" dy="5.5" class="g">TextField</tspan><tspan x="72" dy="5.5" class="b">BooleanField</tspan></text>
</g>

<g id="iop-se" transform="translate(1331,461)">
<rect class="tb" width="95" height="64.5"/><rect class="th" width="95" height="13"/>
<text class="tt" x="47.5" y="5.4">IopSe</text><text class="tt" x="47.5" y="10.6">&lt; BaseModel &gt;</text>
<text class="tf"><tspan x="6" y="17.3" class="b">deployment</tspan><tspan x="6" dy="5.5" class="b">short_name</tspan><tspan x="6" dy="5.5" class="b">start_date</tspan><tspan x="6" dy="5.5" class="b">end_date</tspan><tspan x="6" dy="5.5" class="b">description</tspan><tspan x="6" dy="5.5" class="b">region_description</tspan><tspan x="6" dy="5.5" class="g">published_list</tspan><tspan x="6" dy="5.5" class="g">reports</tspan><tspan x="6" dy="5.5" class="g">reference_file</tspan></text>
<text class="tf"><tspan x="52" y="17.3" class="b">ForeignKey (uuid)</tspan><tspan x="52" dy="5.5" class="b">CharField</tspan><tspan x="52" dy="5.5" class="b">DateField</tspan><tspan x="52" dy="5.5" class="b">DateField</tspan><tspan x="52" dy="5.5" class="b">TextField</tspan><tspan x="52" dy="5.5" class="b">TextField</tspan><tspan x="52" dy="5.5" class="g">CharField</tspan><tspan x="52" dy="5.5" class="g">CharField</tspan><tspan x="52" dy="5.5" class="g">CharField</tspan></text>
</g>

<g id="base-model" transform="translate(1055,689)">
<rect class="th" width="49" height="11" stroke="#8c8c8c" stroke-width="1"/>
<text class="tt" x="24.5" y="7.2">BaseModel</text>
</g>

<g id="gcmd-phenomenon" transform="translate(1107,806)">
<rect class="tb" width="66" height="59"/><rect class="th" width="66" height="13"/>
<text class="tt" x="33" y="5.4">GcmdPhenomenon</text><text class="tt" x="33" y="10.6">&lt; GcmdKeyword &gt;</text>
<text class="tf"><tspan x="6" y="17.3" class="b">uuid</tspan><tspan x="6" dy="5.5" class="b">category</tspan><tspan x="6" dy="5.5" class="g">topic</tspan><tspan x="6" dy="5.5" class="g">term</tspan><tspan x="6" dy="5.5" class="g">variable_1</tspan><tspan x="6" dy="5.5" class="g">variable_2</tspan><tspan x="6" dy="5.5" class="g">variable_3</tspan><tspan x="6" dy="5.5" class="b">gcmd_uuid</tspan></text>
<text class="tf"><tspan x="36" y="17.3" class="b">UUIDField</tspan><tspan x="36" dy="5.5" class="b">CharField</tspan><tspan x="36" dy="5.5" class="g">CharField</tspan><tspan x="36" dy="5.5" class="g">CharField</tspan><tspan x="36" dy="5.5" class="g">CharField</tspan><tspan x="36" dy="5.5" class="g">CharField</tspan><tspan x="36" dy="5.5" class="g">CharField</tspan><tspan x="36" dy="5.5" class="b">UUIDField</tspan></text>
</g>

<g id="measurement-type" transform="translate(654,877)">
<rect class="tb" width="88" height="59"/><rect class="th" width="88" height="13"/>
<text class="tt" x="44" y="5.4">MeasurementType</text><text class="tt" x="44" y="10.6">&lt; LimitedInfoPriority &gt;</text>
<text class="tf"><tspan x="6" y="17.3" class="b">uuid</tspan><tspan x="6" dy="5.5" class="b">short_name</tspan><tspan x="6" dy="5.5" class="g">long_name</tspan><tspan x="6" dy="5.5" class="g">notes_internal</tspan><tspan x="6" dy="5.5" class="g">notes_public</tspan><tspan x="6" dy="5.5" class="g">order_priority</tspan><tspan x="6" dy="5.5" class="b">parent</tspan><tspan x="6" dy="5.5" class="g">example</tspan></text>
<text class="tf"><tspan x="48" y="17.3" class="b">UUIDField</tspan><tspan x="48" dy="5.5" class="b">CharField</tspan><tspan x="48" dy="5.5" class="g">CharField</tspan><tspan x="48" dy="5.5" class="g">TextField</tspan><tspan x="48" dy="5.5" class="g">TextField</tspan><tspan x="48" dy="5.5" class="g">PositiveIntegerField</tspan><tspan x="48" dy="5.5" class="b">ForeignKey (uuid)</tspan><tspan x="48" dy="5.5" class="g">CharField</tspan></text>
</g>

<g id="gcmd-instrument" transform="translate(756,1002)">
<rect class="tb" width="83" height="59"/><rect class="th" width="83" height="13"/>
<text class="tt" x="41.5" y="5.4">GcmdInstrument</text><text class="tt" x="41.5" y="10.6">&lt; GcmdKeyword &gt;</text>
<text class="tf"><tspan x="6" y="17.3" class="b">uuid</tspan><tspan x="6" dy="5.5" class="g">short_name</tspan><tspan x="6" dy="5.5" class="g">long_name</tspan><tspan x="6" dy="5.5" class="g">instrument_category</tspan><tspan x="6" dy="5.5" class="g">instrument_class</tspan><tspan x="6" dy="5.5" class="g">instrument_type</tspan><tspan x="6" dy="5.5" class="g">instrument_subtype</tspan><tspan x="6" dy="5.5" class="b">gcmd_uuid</tspan></text>
<text class="tf"><tspan x="46" y="17.3" class="b">UUIDField</tspan><tspan x="46" dy="5.5" class="g">CharField</tspan><tspan x="46" dy="5.5" class="g">CharField</tspan><tspan x="46" dy="5.5" class="g">CharField</tspan><tspan x="46" dy="5.5" class="g">CharField</tspan><tspan x="46" dy="5.5" class="g">CharField</tspan><tspan x="46" dy="5.5" class="g">CharField</tspan><tspan x="46" dy="5.5" class="b">UUIDField</tspan></text>
</g>

<g id="measurement-style" transform="translate(905,1018)">
<rect class="tb" width="88" height="59"/><rect class="th" width="88" height="13"/>
<text class="tt" x="44" y="5.4">MeasurementStyle</text><text class="tt" x="44" y="10.6">&lt; LimitedInfoPriority &gt;</text>
<text class="tf"><tspan x="6" y="17.3" class="b">uuid</tspan><tspan x="6" dy="5.5" class="b">short_name</tspan><tspan x="6" dy="5.5" class="g">long_name</tspan><tspan x="6" dy="5.5" class="g">notes_internal</tspan><tspan x="6" dy="5.5" class="g">notes_public</tspan><tspan x="6" dy="5.5" class="g">order_priority</tspan><tspan x="6" dy="5.5" class="b">parent</tspan><tspan x="6" dy="5.5" class="g">example</tspan></text>
<text class="tf"><tspan x="48" y="17.3" class="b">UUIDField</tspan><tspan x="48" dy="5.5" class="b">CharField</tspan><tspan x="48" dy="5.5" class="g">CharField</tspan><tspan x="48" dy="5.5" class="g">TextField</tspan><tspan x="48" dy="5.5" class="g">TextField</tspan><tspan x="48" dy="5.5" class="g">PositiveIntegerField</tspan><tspan x="48" dy="5.5" class="b">ForeignKey (uuid)</tspan><tspan x="48" dy="5.5" class="g">CharField</tspan></text>
</g>

<g id="measurement-region" transform="translate(1049,960)">
<rect class="tb" width="86" height="59"/><rect class="th" width="86" height="13"/>
<text class="tt" x="43" y="5.4">MeasurementRegion</text><text class="tt" x="43" y="10.6">&lt; LimitedInfoPriority &gt;</text>
<text class="tf"><tspan x="6" y="17.3" class="b">uuid</tspan><tspan x="6" dy="5.5" class="b">short_name</tspan><tspan x="6" dy="5.5" class="g">long_name</tspan><tspan x="6" dy="5.5" class="g">notes_internal</tspan><tspan x="6" dy="5.5" class="g">notes_public</tspan><tspan x="6" dy="5.5" class="g">order_priority</tspan><tspan x="6" dy="5.5" class="g">gcmd_uuid</tspan><tspan x="6" dy="5.5" class="g">example</tspan></text>
<text class="tf"><tspan x="47" y="17.3" class="b">UUIDField</tspan><tspan x="47" dy="5.5" class="b">CharField</tspan><tspan x="47" dy="5.5" class="g">CharField</tspan><tspan x="47" dy="5.5" class="g">TextField</tspan><tspan x="47" dy="5.5" class="g">TextField</tspan><tspan x="47" dy="5.5" class="g">PositiveIntegerField</tspan><tspan x="47" dy="5.5" class="g">UUIDField</tspan><tspan x="47" dy="5.5" class="g">CharField</tspan></text>
</g>

<!-- Draft objects panel -->
<g id="draft-objects">
<rect class="pd" x="1734" y="13" width="591" height="555" rx="9"/>
<text class="h1" x="1765" y="68" textLength="235" lengthAdjust="spacingAndGlyphs">Draft Objects</text>
<line class="rl" x1="1767" y1="87" x2="2199" y2="87"/>
<line class="rl" x1="1869" y1="543" x2="2298" y2="543"/>
</g>
<g id="actions">
<rect class="bx" x="1771" y="135" width="237" height="197" rx="24"/>
<text class="h2" x="1886" y="171" textLength="100" lengthAdjust="spacingAndGlyphs">Actions</text>
<text class="tx" x="1885" y="215" textLength="66" lengthAdjust="spacingAndGlyphs">Create</text>
<text class="tx" x="1885" y="242" textLength="70" lengthAdjust="spacingAndGlyphs">Update</text>
<text class="tx" x="1885" y="270" textLength="64" lengthAdjust="spacingAndGlyphs">Delete</text>
</g>
<g id="statuses">
<rect class="bx" x="2045" y="135" width="236" height="196" rx="24"/>
<text class="h2" x="2164" y="169" textLength="118" lengthAdjust="spacingAndGlyphs">Statuses</text>
<text class="tx" x="2164" y="202" textLength="77" lengthAdjust="spacingAndGlyphs">Created</text>
<text class="tx" x="2164" y="229" textLength="117" lengthAdjust="spacingAndGlyphs">In Progress</text>
<text class="tx" x="2164" y="257" textLength="96" lengthAdjust="spacingAndGlyphs">In Review</text>
<text class="tx" x="2164" y="285" textLength="167" lengthAdjust="spacingAndGlyphs">In Admin Review</text>
<text class="tx" x="2164" y="312" textLength="98" lengthAdjust="spacingAndGlyphs">Published</text>
</g>
<g id="metadata">
<rect class="bx" x="1767" y="378" width="514" height="116" rx="24"/>
<text class="h2" x="2024" y="412" textLength="123" lengthAdjust="spacingAndGlyphs">Metadata</text>
<text class="tx" x="2024" y="442" textLength="180" lengthAdjust="spacingAndGlyphs">Model Object Link</text>
<text class="tx" x="2024" y="470" textLength="115" lengthAdjust="spacingAndGlyphs">Object Data</text>
</g>

<!-- Published objects panel -->
<g id="published-objects">
<rect class="pp" x="2442" y="118" width="598" height="555" rx="9"/>
<text class="h1" x="2470" y="174" textLength="322" lengthAdjust="spacingAndGlyphs">Published Objects</text>
<line class="rl" x1="2472" y1="193" x2="2906" y2="193"/>
<line class="rl" x1="2574" y1="646" x2="3006" y2="646"/>
</g>
<g id="campaigns">
<rect class="bx" x="2482" y="214" width="238" height="196" rx="24"/>
<text class="h2" x="2599" y="254" textLength="149" lengthAdjust="spacingAndGlyphs">Campaigns</text>
<text class="tx" x="2601" y="296" textLength="119" lengthAdjust="spacingAndGlyphs">short_name</text>
<text class="tx" x="2601" y="324" textLength="110" lengthAdjust="spacingAndGlyphs">long_name</text>
<text class="tx" x="2601" y="351" textLength="113" lengthAdjust="spacingAndGlyphs">description</text>
</g>
<g id="instruments">
<rect class="bx" x="2482" y="430" width="238" height="196" rx="24"/>
<text class="h2" x="2601" y="469" textLength="166" lengthAdjust="spacingAndGlyphs">Instruments</text>
<text class="tx" x="2601" y="512" textLength="119" lengthAdjust="spacingAndGlyphs">short_name</text>
<text class="tx" x="2601" y="540" textLength="110" lengthAdjust="spacingAndGlyphs">long_name</text>
<text class="tx" x="2601" y="567" textLength="113" lengthAdjust="spacingAndGlyphs">description</text>
</g>
<g id="other-models">
<rect class="bx" x="2758" y="319" width="238" height="196" rx="24"/>
<text class="h2" x="2873" y="360" textLength="181" lengthAdjust="spacingAndGlyphs">Other Models</text>
<text class="tx" x="2874" y="403" textLength="119" lengthAdjust="spacingAndGlyphs">short_name</text>
<text class="tx" x="2874" y="430" textLength="110" lengthAdjust="spacingAndGlyphs">long_name</text>
<text class="tx" x="2874" y="458" textLength="113" lengthAdjust="spacingAndGlyphs">description</text>
</g>

<!-- Publishing workflow -->
<g id="workflow-connectors">
<polyline class="wl" stroke-width="4" points="1891,735 2050,735"/>
<polyline class="wl" stroke-width="4" points="1891,1026 2050,1026"/>
<line class="wl" stroke-width="3" x1="2050" y1="733" x2="2050" y2="1028"/>
<line class="wl" stroke-width="5" x1="2003" y1="878" x2="2812" y2="878"/>
</g>
<g id="publications"><circle class="cc" cx="1821" cy="730" r="70"/><text class="fl" x="1822" y="738" textLength="105" lengthAdjust="spacingAndGlyphs">Publications</text></g>
<g id="presentations"><circle class="cc" cx="1934" cy="875" r="70"/><text class="fl" x="1933" y="883" textLength="122" lengthAdjust="spacingAndGlyphs">Presentations</text></g>
<g id="campaign-overviews"><circle class="cc" cx="1821" cy="1018" r="70"/><text class="fl" x="1821" y="1017" textLength="86" lengthAdjust="spacingAndGlyphs">Campaign</text><text class="fl" x="1821" y="1039" textLength="91" lengthAdjust="spacingAndGlyphs">Overviews</text></g>
<g id="step-in-progress"><polygon class="cv" points="2078,829 2212,829 2212,823 2242,878 2212,933 2212,928 2078,928 2107,878"/><text class="fl" x="2168" y="882" textLength="101" lengthAdjust="spacingAndGlyphs">In Progress</text></g>
<g id="step-in-review"><polygon class="cv" points="2256,829 2390,829 2390,823 2420,878 2390,933 2390,928 2256,928 2285,878"/><text class="fl" x="2344" y="882" textLength="83" lengthAdjust="spacingAndGlyphs">In Review</text></g>
<g id="step-in-admin-review"><polygon class="cv" points="2431,829 2565,829 2565,823 2594,878 2565,933 2565,928 2431,928 2461,878"/><text class="fl" x="2513" y="868" textLength="75" lengthAdjust="spacingAndGlyphs">In Admin</text><text class="fl" x="2513" y="892" textLength="60" lengthAdjust="spacingAndGlyphs">Review</text></g>
<g id="step-published"><polygon class="cv" points="2605,829 2739,829 2739,823 2769,878 2739,933 2739,928 2605,928 2634,878"/><text class="fl" x="2692" y="879" textLength="84" lengthAdjust="spacingAndGlyphs">Published</text></g>
<g id="casei"><rect class="cv" x="2812" y="784" width="186" height="182" rx="3"/><text x="2905" y="887" font-family="Liberation Sans, Arial, sans-serif" font-weight="bold" font-size="34" fill="#0d0d0d" text-anchor="middle" textLength="101" lengthAdjust="spacingAndGlyphs">CASEI</text></g>
</svg>
